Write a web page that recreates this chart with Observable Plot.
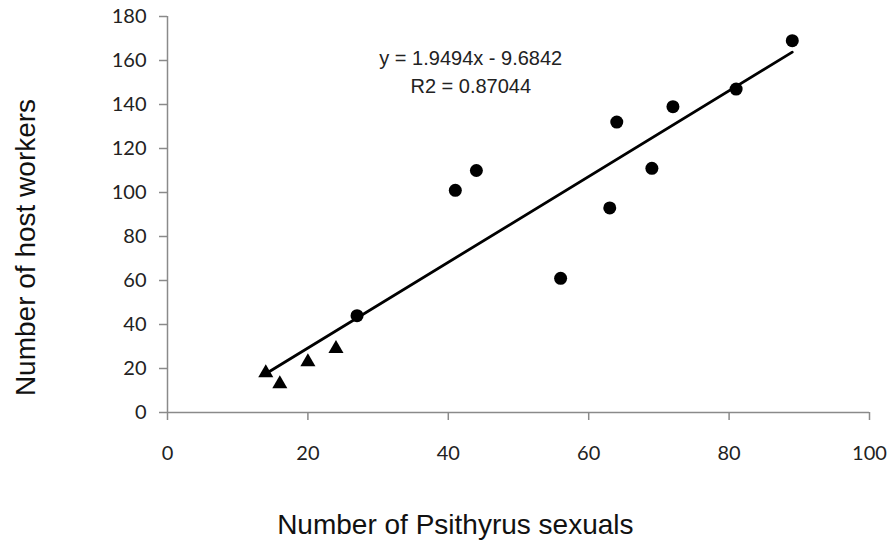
<!DOCTYPE html>
<html>
<head>
<meta charset="utf-8">
<script src="https://cdn.jsdelivr.net/npm/d3@7"></script>
<script src="https://cdn.jsdelivr.net/npm/@observablehq/plot@0.6"></script>
<style>
  html, body { margin: 0; padding: 0; background: #fff; }
  #chart { width: 891px; height: 546px; }
</style>
</head>
<body>
<div id="chart"></div>
<script>
// Data
const psithyrusSexuals = [14, 16, 20, 24, 27, 41, 44, 56, 63, 64, 69, 72, 81, 89];
const hostWorkers      = [18, 13, 23, 29, 44, 101, 110, 61, 93, 132, 111, 139, 147, 169];
const markerType       = ["triangle", "triangle", "triangle", "triangle",
                          "circle", "circle", "circle", "circle", "circle",
                          "circle", "circle", "circle", "circle", "circle"];
const xTicks = [0, 20, 40, 60, 80, 100];
const yTicks = [0, 20, 40, 60, 80, 100, 120, 140, 160, 180];
const equationText = "y = 1.9494x - 9.6842";
const r2Text = "R2 = 0.87044";
const xTitle = "Number of Psithyrus sexuals";
const yTitle = "Number of host workers";

const points = psithyrusSexuals.map((x, i) => ({x, y: hostWorkers[i], type: markerType[i]}));
const circles = points.filter(d => d.type === "circle");
const triangles = points.filter(d => d.type === "triangle");

const axisColor = "#8a8a8a";
const textColor = "#222";

const chart = Plot.plot({
  width: 891,
  height: 546,
  marginLeft: 167,
  marginRight: 22,
  marginTop: 16,
  marginBottom: 134,
  style: {fontFamily: "Lato, sans-serif", fontSize: "20px", background: "#fff", color: textColor},
  x: {domain: [0, 100], axis: null},
  y: {domain: [0, 180], axis: null},
  marks: [
    Plot.axisX({ticks: xTicks, label: null, tickSize: 8, tickPadding: 25, stroke: axisColor, strokeWidth: 1.5, fill: textColor, tickFormat: d => String(d), fontSize: 20}),
    Plot.axisY({ticks: yTicks, label: null, tickSize: 8, tickPadding: 13, stroke: axisColor, strokeWidth: 1.5, fill: textColor, tickFormat: d => String(d), fontSize: 20}),
    Plot.ruleX([0], {stroke: axisColor, strokeWidth: 1.5}),
    Plot.ruleY([0], {stroke: axisColor, strokeWidth: 1.5}),
    Plot.linearRegressionY(points, {x: "x", y: "y", ci: 0, stroke: "#000", strokeWidth: 2.8}),
    Plot.dot(circles, {x: "x", y: "y", r: 6.5, fill: "#000", stroke: "none", symbol: "circle"}),
    Plot.dot(triangles, {x: "x", y: "y", r: 5.6, fill: "#000", stroke: "none", symbol: "triangle"}),
    Plot.text([equationText + "\n" + r2Text], {
      x: 43.2, y: 167, text: d => d, textAnchor: "middle", lineAnchor: "top",
      lineHeight: 1.4, fontFamily: "Liberation Sans, Arial, sans-serif", fontSize: 20, fill: "#222"
    }),
    Plot.text([xTitle], {
      x: 41, frameAnchor: "bottom", dy: 113, text: d => d, textAnchor: "middle", lineAnchor: "middle",
      fontFamily: "Liberation Sans, Arial, sans-serif", fontSize: 28, fill: "#111"
    }),
    Plot.text([yTitle], {
      y: 75, frameAnchor: "left", dx: -141, rotate: -90, text: d => d, textAnchor: "middle", lineAnchor: "middle",
      fontFamily: "Liberation Sans, Arial, sans-serif", fontSize: 28, fill: "#111"
    })
  ]
});
document.getElementById("chart").appendChild(chart);
</script>
</body>
</html>
